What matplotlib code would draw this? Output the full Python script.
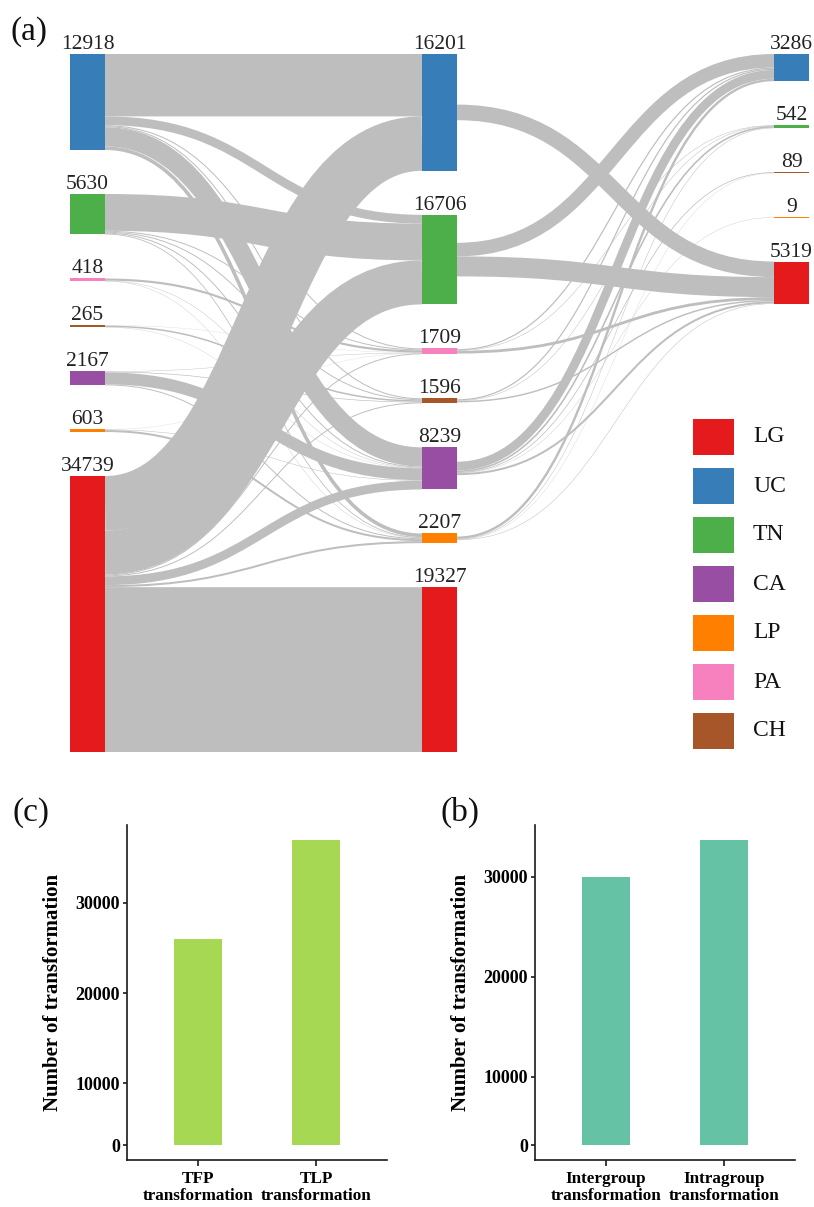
import numpy as np
import matplotlib
matplotlib.use("Agg")
import matplotlib.pyplot as plt
from matplotlib.path import Path
from matplotlib.patches import PathPatch, Rectangle

plt.rcParams["font.family"] = ["Liberation Serif", "DejaVu Serif"]

# ---------------- data ----------------
groups = ["LG", "UC", "TN", "CA", "LP", "PA", "CH"]
group_colors = ["#E41A1C", "#377EB8", "#4DAF4A", "#984EA3", "#FF7F00", "#F781BF", "#A65628"]

left_nodes = ["UC", "TN", "PA", "CH", "CA", "LP", "LG"]
left_labels = [12918, 5630, 418, 265, 2167, 603, 34739]
mid_nodes = ["UC", "TN", "PA", "CH", "CA", "LP", "LG"]
mid_labels = [16201, 16706, 1709, 1596, 8239, 2207, 19327]
right_nodes = ["UC", "TN", "CH", "LP", "LG"]
right_labels = [3286, 542, 89, 9, 5319]

# stage 1 flows (left -> middle), estimated magnitudes
flow1_src = ["UC", "UC", "UC", "UC", "UC", "UC",
             "TN", "TN", "TN", "TN", "TN",
             "PA", "PA", "PA",
             "CH", "CH", "CH",
             "CA", "CA", "CA", "CA",
             "LP", "LP", "LP",
             "LG", "LG", "LG", "LG", "LG", "LG", "LG"]
flow1_tgt = ["UC", "TN", "PA", "CH", "CA", "LP",
             "TN", "PA", "CH", "CA", "LP",
             "PA", "CA", "LP",
             "CH", "PA", "CA",
             "CA", "LP", "PA", "CH",
             "LP", "CA", "PA",
             "UC", "TN", "PA", "CH", "CA", "LP", "LG"]
flow1_val = [7800, 1100, 125, 125, 2400, 450,
             4600, 120, 120, 120, 100,
             270, 50, 40,
             190, 25, 35,
             1500, 120, 50, 80,
             250, 60, 25,
             6800, 5500, 120, 120, 1100, 250, 20600]

# stage 2 flows (middle -> right)
flow2_src = ["UC", "TN", "TN",
             "PA", "PA", "PA",
             "CH", "CH", "CH",
             "CA", "CA", "CA", "CA", "CA",
             "LP", "LP", "LP", "LP"]
flow2_tgt = ["LG", "UC", "LG",
             "UC", "TN", "LG",
             "UC", "TN", "LG",
             "UC", "TN", "CH", "LP", "LG",
             "UC", "TN", "CH", "LG"]
flow2_val = [1950, 1700, 2500,
             150, 60, 350,
             150, 60, 180,
             1100, 200, 90, 40, 250,
             300, 60, 30, 60]

bar_c_labels = ["TFP\ntransformation", "TLP\ntransformation"]
bar_c_values = [26000, 36900]
bar_b_labels = ["Intergroup\ntransformation", "Intragroup\ntransformation"]
bar_b_values = [30000, 33700]

# ---------------- figure ----------------
W, H, DPI = 814, 1207, 100
fig = plt.figure(figsize=(W / DPI, H / DPI), dpi=DPI)
fig.patch.set_facecolor("white")

SK_H = 780
ax = fig.add_axes([0, 1 - SK_H / H, 1, SK_H / H])
ax.set_xlim(0, W)
ax.set_ylim(SK_H, 0)
ax.axis("off")

color_of = dict(zip(groups, group_colors))
k = 0.008          # px per unit
col_x = [70, 422, 774]
node_w = 35
top = 54
gap = 44
link_color = "#BEBEBE"

columns = [left_nodes, mid_nodes, right_nodes]
col_labels = [left_labels, mid_labels, right_labels]
stages = [(flow1_src, flow1_tgt, flow1_val), (flow2_src, flow2_tgt, flow2_val)]

ins = [dict() for _ in columns]
outs = [dict() for _ in columns]
for s, (src, tgt, val) in enumerate(stages):
    for a, b, v in zip(src, tgt, val):
        outs[s][a] = outs[s].get(a, 0) + v
        ins[s + 1][b] = ins[s + 1].get(b, 0) + v

pos = []
for c, nodes in enumerate(columns):
    y = top
    p = {}
    for n in nodes:
        h = max(ins[c].get(n, 0), outs[c].get(n, 0)) * k
        p[n] = (y, h)
        y += h + gap
    pos.append(p)

# links
for s, (src, tgt, val) in enumerate(stages):
    order_src = {n: i for i, n in enumerate(columns[s])}
    order_tgt = {n: i for i, n in enumerate(columns[s + 1])}
    links = list(zip(src, tgt, val))
    src_off = {}
    for n in columns[s]:
        y0, h = pos[s][n]
        tot = outs[s].get(n, 0) * k
        cur = y0 + (h - tot) / 2
        for L in sorted([l for l in links if l[0] == n], key=lambda l: order_tgt[l[1]]):
            src_off[L] = cur + L[2] * k / 2
            cur += L[2] * k
    tgt_off = {}
    for n in columns[s + 1]:
        y0, h = pos[s + 1][n]
        tot = ins[s + 1].get(n, 0) * k
        cur = y0 + (h - tot) / 2
        for L in sorted([l for l in links if l[1] == n], key=lambda l: order_src[l[0]]):
            tgt_off[L] = cur + L[2] * k / 2
            cur += L[2] * k
    x0 = col_x[s] + node_w
    x1 = col_x[s + 1]
    xm = (x0 + x1) / 2
    for L in sorted(links, key=lambda l: l[2]):
        ys, yt = src_off[L], tgt_off[L]
        path = Path([(x0, ys), (xm, ys), (xm, yt), (x1, yt)],
                    [Path.MOVETO, Path.CURVE4, Path.CURVE4, Path.CURVE4])
        ax.add_patch(PathPatch(path, facecolor="none", edgecolor=link_color,
                               lw=L[2] * k * 72 / DPI, capstyle="butt", zorder=1))

# nodes + labels
for c, nodes in enumerate(columns):
    for n, lab in zip(nodes, col_labels[c]):
        y0, h = pos[c][n]
        ax.add_patch(Rectangle((col_x[c], y0), node_w, h, facecolor=color_of[n],
                               edgecolor="none", zorder=3))
        ax.text(col_x[c] + node_w / 2, y0 - 5, str(lab), ha="center", va="baseline",
                fontsize=15.5, color="#222222", zorder=4)

ax.text(10, 40, "(a)", fontsize=24, ha="left", va="baseline", color="#111111")

# legend
for i, g in enumerate(groups):
    cy = 437 + i * 49
    ax.add_patch(Rectangle((693, cy - 18), 41, 36, facecolor=color_of[g],
                           edgecolor="none", zorder=3))
    ax.text(753, cy, g, fontsize=17, ha="left", va="center", color="#111111")

# ---------------- bar charts ----------------
def fwd(y):
    y = np.asarray(y, dtype=float)
    return np.where(y < 10000, y * 0.683, y - 3170)


def inv(t):
    t = np.asarray(t, dtype=float)
    return np.where(t < 6830, t / 0.683, t + 3170)


def bar_panel(left_px, labels, values, color, ylim, tag, tag_x):
    bax = fig.add_axes([left_px / W, (H - 1160) / H, 260 / W, 335 / H])
    bax.set_yscale("function", functions=(fwd, inv))
    x = np.arange(1, len(values) + 1)
    bax.bar(x, values, width=0.4, color=color, zorder=2)
    bax.set_xlim(0.4, 2.6)
    bax.set_ylim(*ylim)
    bax.set_yticks([0, 10000, 20000, 30000])
    bax.set_yticklabels(["0", "10000", "20000", "30000"])
    bax.set_xticks(x)
    bax.set_xticklabels(labels, linespacing=1.1)
    for sp in ["top", "right"]:
        bax.spines[sp].set_visible(False)
    for sp in ["left", "bottom"]:
        bax.spines[sp].set_linewidth(1.2)
        bax.spines[sp].set_color("#1a1a1a")
    bax.tick_params(axis="y", direction="out", length=3, width=1.2,
                    color="#1a1a1a", labelsize=13, pad=2)
    bax.tick_params(axis="x", direction="out", length=4, width=1.2,
                    color="#1a1a1a", labelsize=12.3, pad=4)
    for t in bax.get_xticklabels() + bax.get_yticklabels():
        t.set_fontweight("bold")
    bax.set_ylabel("Number of transformation", fontsize=15, fontweight="bold", va="center")
    bax.yaxis.set_label_coords(-0.285, 0.5)
    fig.text(tag_x / W, 1 - 821 / H, tag, fontsize=24, ha="left", va="baseline",
             color="#111111")
    return bax


bar_panel(127, bar_c_labels, bar_c_values, "#A6D854", (-2432, 38607), "(c)", 12)
bar_panel(535, bar_b_labels, bar_b_values, "#66C2A5", (-2196, 35170), "(b)", 440)

fig.savefig("out.png", dpi=DPI, facecolor="white")
